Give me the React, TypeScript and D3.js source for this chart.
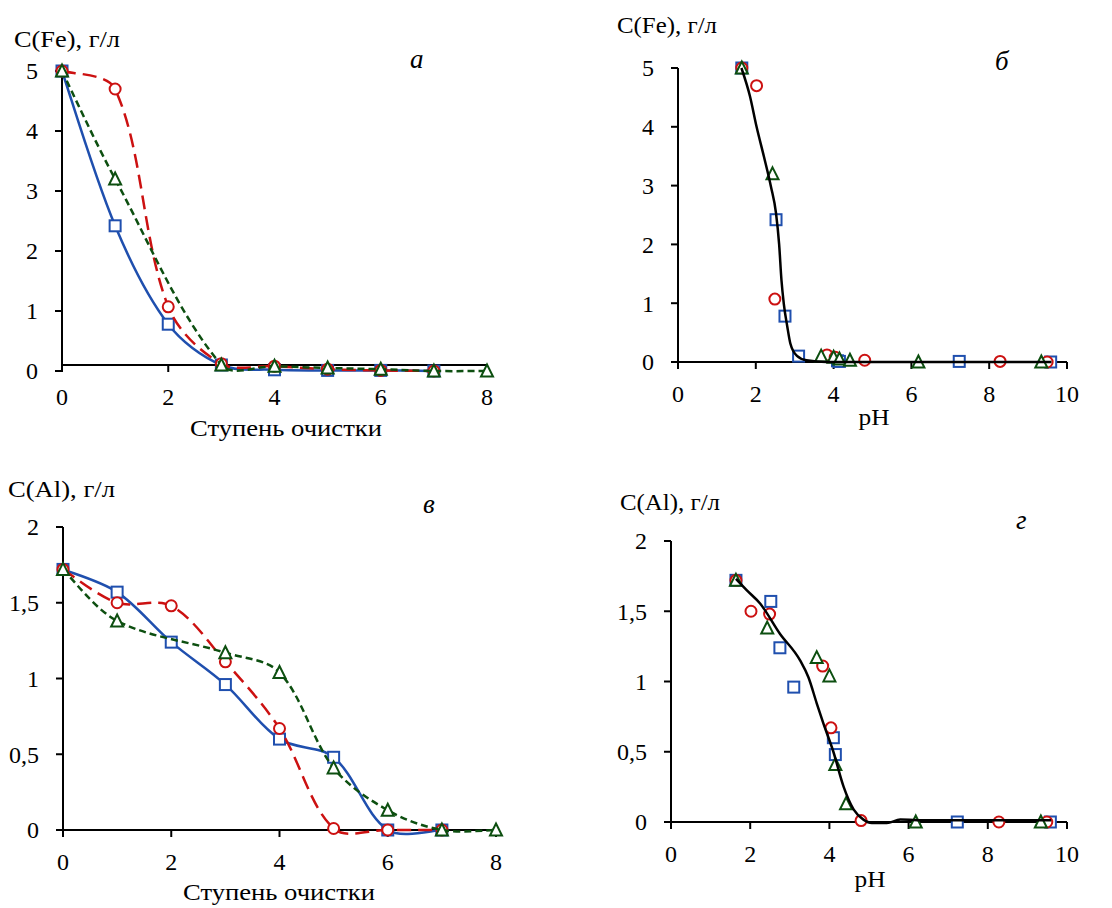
import React from 'react';
import * as d3 from 'd3';

// ---------- data ----------
const stages = [0, 1, 2, 3, 4, 5, 6, 7];
const stagesGreen = [0, 1, 3, 4, 5, 6, 7, 8];

const feBlue = [5, 2.42, 0.78, 0.1, 0.02, 0.01, 0.01, 0.0];
const feRed = [5, 4.7, 1.07, 0.12, 0.08, 0.03, 0.01, 0.0];
const feGreen = [5, 3.2, 0.1, 0.08, 0.05, 0.03, 0.0, 0.0];

const alBlue = [1.72, 1.57, 1.24, 0.96, 0.6, 0.48, 0.0, 0.0];
const alRed = [1.72, 1.5, 1.48, 1.11, 0.67, 0.01, 0.0, 0.0];
const alGreen = [1.72, 1.38, 1.17, 1.04, 0.41, 0.13, 0.0, 0.0];

const phBlue = [1.64, 2.52, 2.75, 3.1, 4.1, 4.15, 7.23, 9.58];
const phRed = [1.64, 2.02, 2.49, 3.83, 4.04, 4.8, 8.28, 9.49];
const phGreen = [1.64, 2.43, 3.68, 4.0, 4.15, 4.42, 6.18, 9.34];

const feFitPH = [1.63, 1.85, 2.02, 2.21, 2.39, 2.52, 2.6, 2.66, 2.72, 2.81, 2.89, 3.05, 3.3, 3.82, 6.0, 9.6];
const feFitC = [5.0, 4.52, 4.0, 3.49, 2.98, 2.53, 2.0, 1.39, 0.99, 0.6, 0.31, 0.11, 0.03, 0.0, 0.0, 0.0];

const alFitPH = [1.64, 1.91, 2.25, 2.75, 3.26, 3.47, 3.68, 3.85, 4.1, 4.36, 4.61, 4.86, 5.07, 5.45, 5.79, 6.46, 9.6];
const alFitC = [1.73, 1.65, 1.555, 1.34, 1.15, 1.03, 0.845, 0.7, 0.5, 0.25, 0.09, 0.017, -0.007, -0.007, 0.017, 0.012, 0.012];

const feTicks = [0, 1, 2, 3, 4, 5];
const alTicks = [0, 0.5, 1, 1.5, 2];
const stageTicks = [0, 2, 4, 6, 8];
const phTicks = [0, 2, 4, 6, 8, 10];

// ---------- styles ----------
const FONT = "'Liberation Serif', 'Times New Roman', serif";
const BLUE = '#1f4fae';
const RED = '#cc1111';
const GREEN = '#0d4f10';
const FS = 24;

type Marker = 'square' | 'circle' | 'triangle';
interface Series {
  xs: number[];
  ys: number[];
  color: string;
  dash: string | null;
  marker: Marker;
  line: boolean;
}

interface PanelProps {
  x0: number; x1: number; y0: number; y1: number;
  xDomain: [number, number]; yDomain: [number, number];
  xTicks: number[]; yTicks: number[];
  crossY?: number;
  series: Series[];
  fit?: { xs: number[]; ys: number[] };
  title: string; titleX: number; titleY: number; titleW: number;
  letter: string; letterX: number; letterY: number;
  xLabel: string; xLabelX: number; xLabelY: number; xLabelW: number;
}

const fmt = (v: number) => String(v).replace('.', ',');

// Excel-like smoothing: Bezier with tangents scaled by adjacent segment lengths (screen space)
function excelSmooth(pts: [number, number][]): string {
  const n = pts.length;
  if (n < 2) return '';
  const s = 1 / 3;
  const outs: [number, number][] = [];
  const ins: [number, number][] = [];
  for (let i = 0; i < n; i++) {
    const p = pts[i];
    const prev = pts[i - 1] ?? p;
    const next = pts[i + 1] ?? p;
    const tx = next[0] - prev[0];
    const ty = next[1] - prev[1];
    const dp = Math.hypot(p[0] - prev[0], p[1] - prev[1]);
    const dn = Math.hypot(next[0] - p[0], next[1] - p[1]);
    const sum = dp + dn || 1;
    let fo = s * (dn / sum);
    let fi = s * (dp / sum);
    if (i === 0) fo = s / 2;
    if (i === n - 1) fi = s / 2;
    outs.push([p[0] + tx * fo, p[1] + ty * fo]);
    ins.push([p[0] - tx * fi, p[1] - ty * fi]);
  }
  let d = `M${pts[0][0]},${pts[0][1]}`;
  for (let i = 0; i < n - 1; i++) {
    d += `C${outs[i][0]},${outs[i][1]},${ins[i + 1][0]},${ins[i + 1][1]},${pts[i + 1][0]},${pts[i + 1][1]}`;
  }
  return d;
}

function MarkerShape({ m, cx, cy, color }: { m: Marker; cx: number; cy: number; color: string }) {
  if (m === 'square') {
    const s = 11;
    return <rect x={cx - s / 2} y={cy - s / 2} width={s} height={s} fill="white" stroke={color} strokeWidth={2} />;
  }
  if (m === 'circle') {
    return <circle cx={cx} cy={cy} r={5.5} fill="white" stroke={color} strokeWidth={2} />;
  }
  const h = 11, w = 12;
  const p = `M${cx},${cy - h / 2 - 1} L${cx + w / 2},${cy + h / 2} L${cx - w / 2},${cy + h / 2} Z`;
  return <path d={p} fill="white" stroke={color} strokeWidth={2} strokeLinejoin="miter" />;
}

function Panel(p: PanelProps) {
  const xs = d3.scaleLinear().domain(p.xDomain).range([p.x0, p.x1]);
  const ys = d3.scaleLinear().domain(p.yDomain).range([p.y0, p.y1]);
  const axisY = ys(p.crossY ?? 0);
  const fitLine = d3
    .line<[number, number]>()
    .x((d) => xs(d[0]))
    .y((d) => ys(d[1]))
    .curve(d3.curveMonotoneX);

  return (
    <g fontFamily={FONT}>
      {/* axes */}
      <line x1={p.x0} x2={p.x0} y1={p.y1} y2={p.y0} stroke="black" strokeWidth={2} />
      <line x1={p.x0} x2={p.x1} y1={axisY} y2={axisY} stroke="black" strokeWidth={2} />
      {p.yTicks.map((t) => (
        <g key={'y' + t}>
          <line x1={p.x0 - 7} x2={p.x0} y1={ys(t)} y2={ys(t)} stroke="black" strokeWidth={2} />
          <text x={p.x0 - 24} y={ys(t)} dy="0.35em" textAnchor="end" fontSize={FS}>
            {fmt(t)}
          </text>
        </g>
      ))}
      {p.xTicks.map((t) => (
        <g key={'x' + t}>
          <line x1={xs(t)} x2={xs(t)} y1={axisY} y2={axisY + 7} stroke="black" strokeWidth={2} />
          <text x={xs(t)} y={axisY + 40} textAnchor="middle" fontSize={FS}>
            {fmt(t)}
          </text>
        </g>
      ))}
      {/* series */}
      {p.series.map((s, i) => {
        const pts: [number, number][] = s.xs.map((x, j) => [x, s.ys[j]]);
        const px: [number, number][] = pts.map((d) => [xs(d[0]), ys(d[1])]);
        return (
          <g key={'s' + i}>
            {s.line && (
              <path
                d={excelSmooth(px)}
                fill="none"
                stroke={s.color}
                strokeWidth={2.5}
                strokeDasharray={s.dash || undefined}
              />
            )}
            {px.map((d, j) => (
              <MarkerShape key={j} m={s.marker} cx={d[0]} cy={d[1]} color={s.color} />
            ))}
          </g>
        );
      })}
      {p.fit && (
        <path
          d={fitLine(p.fit.xs.map((x, j) => [x, p.fit!.ys[j]] as [number, number])) || ''}
          fill="none"
          stroke="black"
          strokeWidth={2.5}
        />
      )}
      {/* labels */}
      <text x={p.titleX} y={p.titleY} fontSize={FS} textLength={p.titleW} lengthAdjust="spacingAndGlyphs">
        {p.title}
      </text>
      <text x={p.letterX} y={p.letterY} fontSize={27} fontStyle="italic">
        {p.letter}
      </text>
      <text
        x={p.xLabelX - p.xLabelW / 2}
        y={p.xLabelY}
        fontSize={FS}
        textLength={p.xLabelW}
        lengthAdjust="spacingAndGlyphs"
      >
        {p.xLabel}
      </text>
    </g>
  );
}

export default function App() {
  const stageSeriesFe: Series[] = [
    { xs: stages, ys: feBlue, color: BLUE, dash: null, marker: 'square', line: true },
    { xs: stages, ys: feRed, color: RED, dash: '14 7', marker: 'circle', line: true },
    { xs: stagesGreen, ys: feGreen, color: GREEN, dash: '7 4', marker: 'triangle', line: true },
  ];
  const phSeriesFe: Series[] = [
    { xs: phBlue, ys: feBlue, color: BLUE, dash: null, marker: 'square', line: false },
    { xs: phRed, ys: feRed, color: RED, dash: null, marker: 'circle', line: false },
    { xs: phGreen, ys: feGreen, color: GREEN, dash: null, marker: 'triangle', line: false },
  ];
  const stageSeriesAl: Series[] = [
    { xs: stages, ys: alBlue, color: BLUE, dash: null, marker: 'square', line: true },
    { xs: stages, ys: alRed, color: RED, dash: '14 7', marker: 'circle', line: true },
    { xs: stagesGreen, ys: alGreen, color: GREEN, dash: '7 4', marker: 'triangle', line: true },
  ];
  const phSeriesAl: Series[] = [
    { xs: phBlue, ys: alBlue, color: BLUE, dash: null, marker: 'square', line: false },
    { xs: phRed, ys: alRed, color: RED, dash: null, marker: 'circle', line: false },
    { xs: phGreen, ys: alGreen, color: GREEN, dash: null, marker: 'triangle', line: false },
  ];

  return (
    <svg
      width={1112}
      height={908}
      style={{ position: 'absolute', left: 0, top: 0, background: 'white' }}
    >
      <rect width={1112} height={908} fill="white" />
      <Panel
        x0={62} x1={487} y0={371} y1={71}
        xDomain={[0, 8]} yDomain={[0, 5]}
        xTicks={stageTicks} yTicks={feTicks} crossY={0.1}
        series={stageSeriesFe}
        title="C(Fe), г/л" titleX={14} titleY={47} titleW={106}
        letter="а" letterX={410} letterY={68}
        xLabel="Ступень очистки" xLabelX={286} xLabelY={436} xLabelW={192}
      />
      <Panel
        x0={678} x1={1067} y0={362} y1={68}
        xDomain={[0, 10]} yDomain={[0, 5]}
        xTicks={phTicks} yTicks={feTicks}
        series={phSeriesFe}
        fit={{ xs: feFitPH, ys: feFitC }}
        title="C(Fe), г/л" titleX={617} titleY={33} titleW={100}
        letter="б" letterX={995} letterY={70}
        xLabel="pH" xLabelX={874} xLabelY={425} xLabelW={31}
      />
      <Panel
        x0={63} x1={496} y0={830} y1={527}
        xDomain={[0, 8]} yDomain={[0, 2]}
        xTicks={stageTicks} yTicks={alTicks}
        series={stageSeriesAl}
        title="C(Al), г/л" titleX={8} titleY={497} titleW={107}
        letter="в" letterX={423} letterY={513}
        xLabel="Ступень очистки" xLabelX={279} xLabelY={900} xLabelW={192}
      />
      <Panel
        x0={671} x1={1067} y0={822} y1={541}
        xDomain={[0, 10]} yDomain={[0, 2]}
        xTicks={phTicks} yTicks={alTicks}
        series={phSeriesAl}
        fit={{ xs: alFitPH, ys: alFitC }}
        title="C(Al), г/л" titleX={620} titleY={510} titleW={100}
        letter="г" letterX={1016} letterY={529}
        xLabel="pH" xLabelX={870} xLabelY={887} xLabelW={31}
      />
    </svg>
  );
}
